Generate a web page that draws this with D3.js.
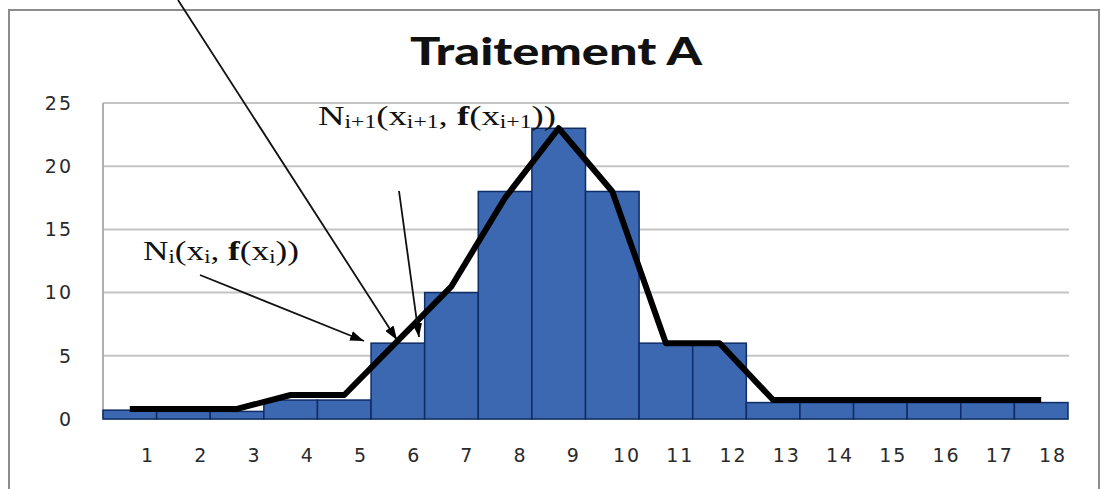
<!DOCTYPE html>
<html>
<head>
<meta charset="utf-8">
<script src="https://cdn.jsdelivr.net/npm/d3@7"></script>
<style>
  html, body { margin: 0; padding: 0; background: #fff; }
  svg { display: block; }
</style>
</head>
<body>
<svg id="chart" width="1101" height="489"></svg>
<script>
// ---- data ----
const categories = ["1","2","3","4","5","6","7","8","9","10","11","12","13","14","15","16","17","18"];
const barValues  = [0.7, 0.6, 0.6, 1.5, 1.5, 6, 10, 18, 23, 18, 6, 6, 1.3, 1.3, 1.3, 1.3, 1.3, 1.3];
const lineValues = [0.8, 0.8, 0.8, 1.9, 1.9, 6.2, 10.5, 17.5, 23, 18, 6, 6, 1.5, 1.5, 1.5, 1.5, 1.5, 1.5];
const yTicks = [0, 5, 10, 15, 20, 25];
const title = "Traitement A";

const svg = d3.select("#chart");

// outer frame
svg.append("rect")
  .attr("x", 9).attr("y", 10).attr("width", 1090).attr("height", 520)
  .attr("fill", "none").attr("stroke", "#8c8c8c").attr("stroke-width", 2);

const pLeft = 103, pRight = 1068, pTop = 103, pBottom = 419;

const x = d3.scaleBand().domain(categories).range([pLeft, pRight]).padding(0);
const xLab = d3.scalePoint().domain(categories).range([148, 1053]);
const y = d3.scaleLinear().domain([0, 25]).range([pBottom, pTop]);

// gridlines
svg.append("g").selectAll("line").data(yTicks).join("line")
  .attr("x1", pLeft).attr("x2", pRight + 1)
  .attr("y1", d => y(d)).attr("y2", d => y(d))
  .attr("stroke", "#c4c4c4").attr("stroke-width", 2);

// y axis line
svg.append("line")
  .attr("x1", pLeft).attr("x2", pLeft).attr("y1", y(25)).attr("y2", pBottom)
  .attr("stroke", "#b0b0b0").attr("stroke-width", 2);

// y tick labels
svg.append("g").selectAll("text").data(yTicks).join("text")
  .attr("x", 73).attr("y", d => y(d))
  .attr("dy", "0.36em")
  .attr("text-anchor", "end")
  .attr("font-family", "DejaVu Sans, Verdana, sans-serif")
  .attr("font-size", 19)
  .attr("letter-spacing", 2)
  .attr("fill", "#2a2a2a")
  .text(d => d);

// bars
svg.append("g").selectAll("rect").data(barValues).join("rect")
  .attr("x", (d, i) => x(categories[i]))
  .attr("y", d => y(d))
  .attr("width", x.bandwidth())
  .attr("height", d => pBottom - y(d))
  .attr("fill", "#3b68b0")
  .attr("stroke", "#0e2c66")
  .attr("stroke-width", 1.5);

// x tick labels
svg.append("g").selectAll("text").data(categories).join("text")
  .attr("x", d => xLab(d)).attr("y", 462)
  .attr("text-anchor", "middle")
  .attr("font-family", "DejaVu Sans, Verdana, sans-serif")
  .attr("font-size", 19)
  .attr("letter-spacing", 2)
  .attr("fill", "#2a2a2a")
  .text(d => d);

// frequency polygon
const line = d3.line()
  .x((d, i) => x(categories[i]) + x.bandwidth() / 2)
  .y(d => y(d));
svg.append("path")
  .datum(lineValues)
  .attr("d", line)
  .attr("fill", "none")
  .attr("stroke", "#000")
  .attr("stroke-width", 6)
  .attr("stroke-linejoin", "round");

// title
svg.append("text")
  .attr("x", 556).attr("y", 65)
  .attr("text-anchor", "middle")
  .attr("font-family", "Lato, Open Sans, Liberation Sans, sans-serif")
  .attr("font-weight", "900")
  .attr("font-size", 37)
  .attr("textLength", 292)
  .attr("lengthAdjust", "spacingAndGlyphs")
  .attr("fill", "#111")
  .text(title);

// arrows
const defs = svg.append("defs");
defs.append("marker")
  .attr("id", "arrow")
  .attr("viewBox", "0 0 14 10")
  .attr("refX", 14).attr("refY", 5)
  .attr("markerWidth", 14).attr("markerHeight", 10)
  .attr("markerUnits", "userSpaceOnUse")
  .attr("orient", "auto")
  .append("path").attr("d", "M0,0 L14,5 L0,10 Z").attr("fill", "#000");

const arrows = [
  [178, 0, 397, 340],
  [200, 275, 364, 341],
  [399, 191, 419, 337]
];
svg.append("g").selectAll("line").data(arrows).join("line")
  .attr("x1", d => d[0]).attr("y1", d => d[1])
  .attr("x2", d => d[2]).attr("y2", d => d[3])
  .attr("stroke", "#111").attr("stroke-width", 1.8)
  .attr("marker-end", "url(#arrow)");

// annotation labels
function annot(xp, yp, width, parts) {
  const t = svg.append("text")
    .attr("x", xp).attr("y", yp)
    .attr("font-family", "Liberation Serif, Times New Roman, serif")
    .attr("font-size", 28)
    .attr("fill", "#111")
    .attr("textLength", width)
    .attr("lengthAdjust", "spacingAndGlyphs");
  parts.forEach(p => {
    const ts = t.append("tspan").text(p.t);
    if (p.sub) ts.attr("font-size", 18).attr("dy", p.dy || 0);
    else if (p.dy) ts.attr("dy", p.dy);
    if (p.bold) ts.attr("font-weight", "bold");
  });
}
annot(143, 260, 156, [
  {t: "N"}, {t: "i", sub: true, dy: 3}, {t: "(x", dy: -3}, {t: "i", sub: true, dy: 3},
  {t: ", ", dy: -3}, {t: "f", bold: true}, {t: "(x"}, {t: "i", sub: true, dy: 3}, {t: "))", dy: -3}
]);
annot(318, 125, 238, [
  {t: "N"}, {t: "i+1", sub: true, dy: 3}, {t: "(x", dy: -3}, {t: "i+1", sub: true, dy: 3},
  {t: ", ", dy: -3}, {t: "f", bold: true}, {t: "(x"}, {t: "i+1", sub: true, dy: 3}, {t: "))", dy: -3}
]);
</script>
</body>
</html>
